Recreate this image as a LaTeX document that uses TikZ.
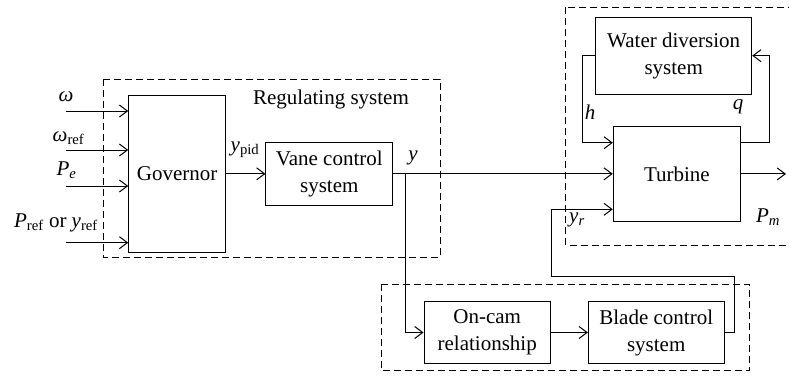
\documentclass[tikz,border=0pt]{standalone}
\usepackage{fontspec}
\setmainfont{Liberation Serif}
\usetikzlibrary{arrows.meta}
\newcommand\vsb[2]{\textit{#1}\textsubscript{#2}}
\begin{document}
\begin{tikzpicture}[x=1pt,y=-1pt,
  font=\fontsize{21}{27}\selectfont,
  blk/.style={draw,line width=1pt,minimum width=#1,inner sep=0pt,align=center},
  grp/.style={draw,line width=1pt,dash pattern=on 7pt off 4pt},
  conn/.style={line width=1pt},
  arr/.style={conn,-{Straight Barb[length=8pt,width=12pt]}},
  lbl/.style={inner sep=0pt}]
\useasboundingbox (0,0) rectangle (789,376);
% groups
\draw[grp] (103,79.3) rectangle (440,257.3);
\draw[grp] (565.7,7.3) rectangle (800,245.3);
\draw[grp] (381,284.3) rectangle (749.3,370.7);
% blocks
\node[blk=97pt,minimum height=157.7pt] (gov) at (177.2,173.9) {Governor};
\node[blk=126.7pt,minimum height=63pt] (vane) at (329.3,173.8) {Vane control\\system};
\node[blk=156pt,minimum height=76.7pt] (water) at (673.7,55.7) {Water diversion\\system};
\node[blk=127.2pt,minimum height=94.3pt] (turb) at (676.9,173.9) {Turbine};
\node[blk=126.3pt,minimum height=61.6pt] (oncam) at (487.2,332.5) {On-cam\\relationship};
\node[blk=135.7pt,minimum height=61.6pt] (blade) at (656.2,332.5) {Blade control\\system};
% input coordinates
\coordinate (i1) at (65.7,111);
\coordinate (i2) at (65.7,150);
\coordinate (i3) at (65.7,186);
\coordinate (i4) at (65.7,242.7);
\draw[arr] (i1) -- (i1 -| gov.west);
\draw[arr] (i2) -- (i2 -| gov.west);
\draw[arr] (i3) -- (i3 -| gov.west);
\draw[arr] (i4) -- (i4 -| gov.west);
\draw[arr] (gov.east |- vane.west) -- (vane.west);
% y line
\coordinate (ybr) at (405,173.8);
\draw[arr] (vane.east) -- (turb.west |- vane.east);
\draw[arr] (ybr) |- (oncam.west);
\draw[arr] (oncam.east) -- (blade.west);
% y_r loop
\coordinate (yr1) at (734.3,276);
\coordinate (yr2) at (551.7,209.3);
\draw[arr] (blade.east) -| (yr1) -| (yr2) -- (yr2 -| turb.west);
% h loop
\coordinate (hx) at (582.3,142.7);
\draw[arr] (water.west) -| (hx) -- (hx -| turb.west);
% q loop
\coordinate (qx) at (769.5,142.7);
\draw[arr] (qx -| turb.east) -- (qx) |- (water.east);
% P_m
\coordinate (pm) at (786,173.9);
\draw[arr] (turb.east) -- (pm);
% labels
\node[lbl] (lw) at (66,97) {\textit{ω}};
\node[lbl] (lwr) at (68.5,138) {\vsb{ω}{ref}};
\node[lbl] (lpe) at (66.5,170) {\vsb{P}{\textit{e}}};
\node[lbl] (lpr) at (56,223) {\vsb{P}{ref} or \vsb{y}{ref}};
\node[lbl] (lyp) at (245,150) {\vsb{y}{pid}};
\node[lbl] (lreg) at (331,99) {Regulating system};
\node[lbl] (ly) at (413,158) {\textit{y}};
\node[lbl] (lh) at (590,112) {\textit{h}};
\node[lbl] (lq) at (738,107) {\textit{q}};
\node[lbl] (lpm) at (768,217) {\vsb{P}{\textit{m}}};
\node[lbl] (lyr) at (577,220) {\vsb{y}{\textit{r}}};
\end{tikzpicture}
\end{document}
